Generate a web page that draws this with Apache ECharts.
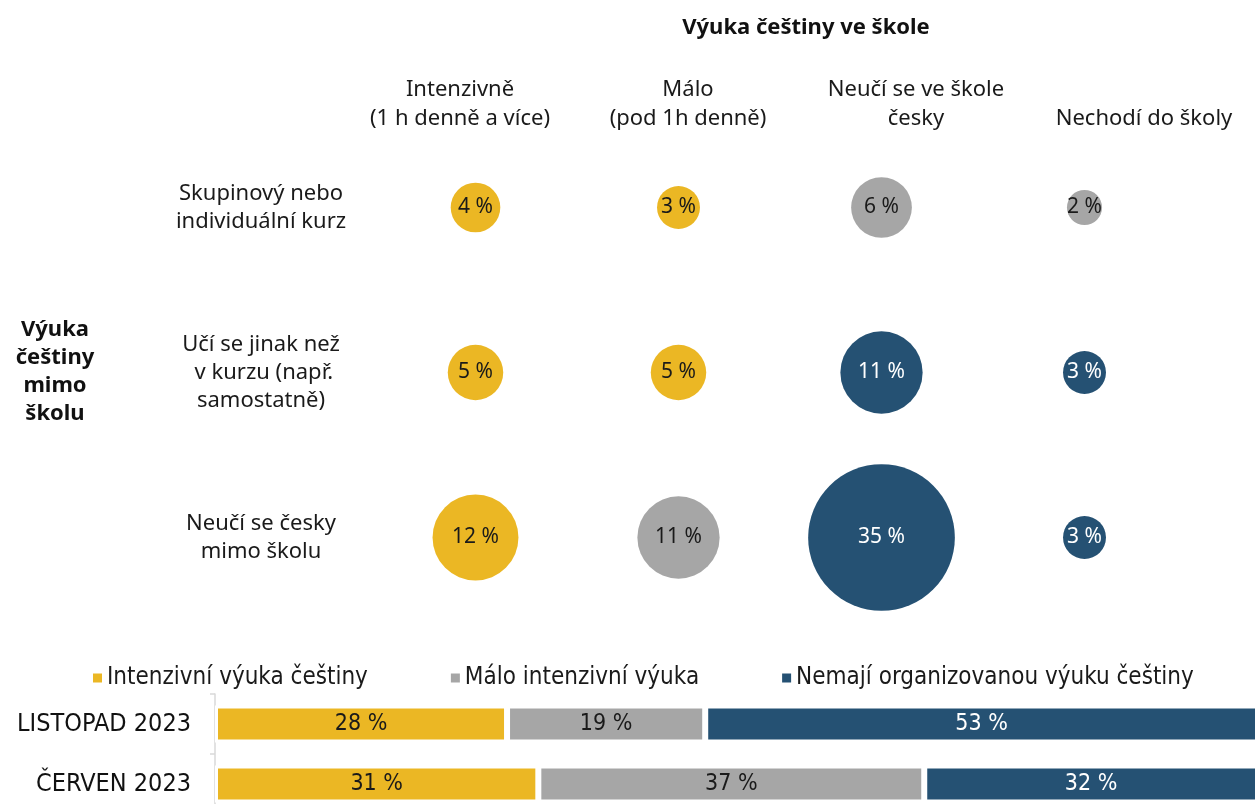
<!DOCTYPE html>
<html>
<head>
<meta charset="utf-8">
<script src="https://cdn.jsdelivr.net/npm/echarts@6/dist/echarts.min.js"></script>
<style>
  html, body { margin: 0; padding: 0; background: #fff; overflow: hidden; }
  #chart { width: 1258px; height: 814px; }
</style>
</head>
<body>
<div id="chart"></div>
<script>
  // sloupce: výuka ve škole
  const schoolCats = ['Intenzivně\n(1 h denně a více)', 'Málo\n(pod 1h denně)', 'Neučí se ve škole\nčesky', 'Nechodí do školy']
  // řádky: výuka mimo školu
  const outsideCats = ['Skupinový nebo\nindividuální kurz', 'Učí se jinak než\n v kurzu (např.\nsamostatně)', 'Neučí se česky\nmimo školu']
  const bubbleValues = [
    [4, 3, 6, 2],
    [5, 5, 11, 3],
    [12, 11, 35, 3],
  ]
  // 0 = intenzivní, 1 = málo, 2 = bez organizované výuky
  const bubbleGroups = [
    [0, 0, 1, 1],
    [0, 0, 2, 2],
    [0, 1, 2, 2],
  ]
  const groupNames = ['Intenzivní výuka češtiny', 'Málo intenzivní výuka', 'Nemají organizovanou výuku češtiny']
  const periods = ['LISTOPAD 2023', 'ČERVEN 2023']
  const intensiveShare = [28, 31]
  const lowShare = [19, 37]
  const noneShare = [53, 32]

  const colors = ['#ebb724', '#a6a6a6', '#255173']
  const labelColors = ['#1a1a1a', '#1a1a1a', '#ffffff']
  const sans = '"Noto Sans", "Open Sans", sans-serif'
  const narrow = '"Liberation Sans Narrow", "DejaVu Sans Condensed", "Noto Sans", sans-serif'

  function bubbleData(g) {
    const out = []
    bubbleValues.forEach((row, r) => {
      row.forEach((v, c) => {
        if (bubbleGroups[r][c] === g) out.push([c, r, v])
      })
    })
    return out
  }

  const shares = [intensiveShare, lowShare, noneShare]

  const chart = echarts.init(document.getElementById('chart'), null, { renderer: 'canvas' })

  chart.setOption({
    animation: false,
    textStyle: { fontFamily: sans },
    graphic: [
      {
        type: 'text',
        style: {
          text: 'Výuka češtiny ve škole',
          x: 806, y: 28,
          textAlign: 'center', textVerticalAlign: 'middle',
          font: 'bold 22px ' + sans, fill: '#111',
        },
      },
      {
        type: 'text',
        style: {
          text: 'Výuka\nčeštiny\nmimo\nškolu',
          x: 55, y: 372,
          textAlign: 'center', textVerticalAlign: 'middle',
          font: 'bold 22px ' + sans, lineHeight: 28, fill: '#111',
        },
      },
    ],
    legend: {
      data: groupNames,
      top: 666,
      left: 93,
      padding: 0,
      icon: 'rect',
      itemWidth: 9,
      itemHeight: 9,
      itemGap: 83,
      textStyle: { fontFamily: narrow, fontSize: 24, color: '#1a1a1a' },
    },
    grid: [
      { left: 374, width: 812, top: 125, height: 495 },
      { left: 346, width: 920, top: 139, height: 1 },
      { left: 215, right: 0, top: 694, height: 120 },
    ],
    xAxis: [
      { gridIndex: 0, type: 'category', data: schoolCats, show: false },
      {
        gridIndex: 1, type: 'category', data: schoolCats, position: 'top',
        axisLine: { show: false }, axisTick: { show: false },
        axisLabel: { margin: 6, fontSize: 22, lineHeight: 29, color: '#1a1a1a', interval: 0 },
      },
      { gridIndex: 2, type: 'value', min: 0, max: 100, show: false },
    ],
    yAxis: [
      {
        gridIndex: 0, type: 'category', data: outsideCats, inverse: true,
        axisLine: { show: false }, axisTick: { show: false },
        axisLabel: { align: 'center', margin: 113, fontSize: 22, lineHeight: 28, color: '#1a1a1a' },
      },
      { gridIndex: 1, type: 'value', show: false },
      {
        gridIndex: 2, type: 'category', data: periods, inverse: true,
        axisLine: { show: true, lineStyle: { color: '#d9d9d9', width: 1.5 } },
        axisTick: { show: true, length: 5, lineStyle: { color: '#d9d9d9', width: 1.5 } },
        axisLabel: { margin: 24, fontFamily: narrow, fontSize: 25, color: '#111' },
      },
    ],
    series: [
      ...groupNames.map((name, g) => ({
        name,
        type: 'scatter',
        xAxisIndex: 0,
        yAxisIndex: 0,
        data: bubbleData(g),
        symbolSize: (val) => 24.8 * Math.sqrt(val[2]),
        itemStyle: { color: colors[g], opacity: 1 },
        label: {
          show: true,
          position: 'inside',
          formatter: (p) => p.value[2] + ' %',
          fontSize: 21,
          color: labelColors[g],
        },
        emphasis: { disabled: true },
      })),
      ...groupNames.map((name, g) => ({
        name,
        type: 'bar',
        stack: 'share',
        xAxisIndex: 2,
        yAxisIndex: 2,
        barWidth: 37,
        data: shares[g],
        itemStyle: { color: colors[g], borderColor: '#fff', borderWidth: 3 },
        label: {
          show: true,
          position: 'inside',
          formatter: '{c} %',
          fontFamily: narrow,
          fontSize: 23,
          color: labelColors[g],
        },
        emphasis: { disabled: true },
      })),
    ],
  })
</script>
</body>
</html>
